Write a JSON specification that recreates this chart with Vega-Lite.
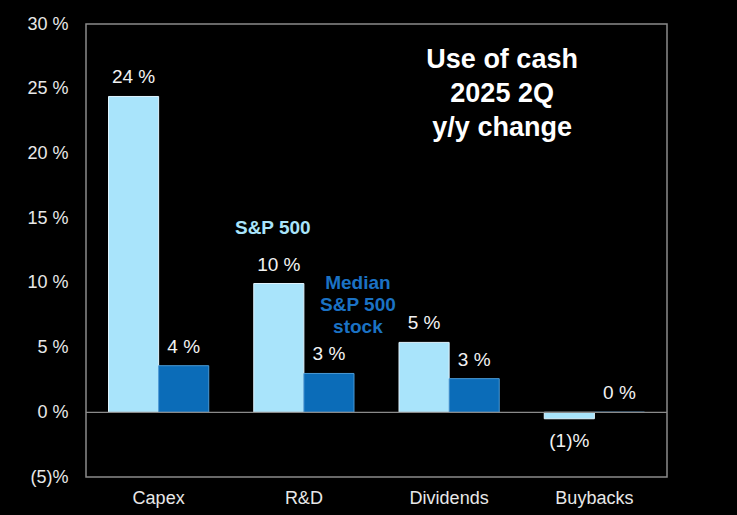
{
  "$schema": "https://vega.github.io/schema/vega-lite/v6.json",
  "width": 581,
  "height": 453,
  "autosize": {"type": "none"},
  "padding": {"left": 86, "top": 24, "right": 70, "bottom": 38},
  "background": "#000000",
  "config": {
    "view": {"stroke": "#8a8a8a", "strokeWidth": 1.5},
    "font": "Liberation Sans"
  },
  "datasets": {
    "bars": [
      {"category": "Capex", "series": "S&P 500", "value": 24.4, "label": "24 %"},
      {"category": "Capex", "series": "Median S&P 500 stock", "value": 3.6, "label": "4 %"},
      {"category": "R&D", "series": "S&P 500", "value": 9.95, "label": "10 %"},
      {"category": "R&D", "series": "Median S&P 500 stock", "value": 3.0, "label": "3 %"},
      {"category": "Dividends", "series": "S&P 500", "value": 5.4, "label": "5 %"},
      {"category": "Dividends", "series": "Median S&P 500 stock", "value": 2.6, "label": "3 %"},
      {"category": "Buybacks", "series": "S&P 500", "value": -0.5, "label": "(1)%"},
      {"category": "Buybacks", "series": "Median S&P 500 stock", "value": 0, "label": "0 %"}
    ],
    "title": [
      {"category": "Dividends", "y": 27.2, "text": "Use of cash"},
      {"category": "Dividends", "y": 24.6, "text": "2025 2Q"},
      {"category": "Dividends", "y": 22.0, "text": "y/y change"}
    ],
    "legendA": [
      {"category": "R&D", "series": "S&P 500", "y": 14.2, "text": "S&P 500"}
    ],
    "legendB": [
      {"category": "R&D", "series": "Median S&P 500 stock", "y": 10.0, "text": "Median"},
      {"category": "R&D", "series": "Median S&P 500 stock", "y": 8.3, "text": "S&P 500"},
      {"category": "R&D", "series": "Median S&P 500 stock", "y": 6.6, "text": "stock"}
    ]
  },
  "layer": [
    {
      "data": {"name": "bars"},
      "mark": {"type": "bar", "strokeWidth": 1},
      "encoding": {
        "x": {
          "field": "category", "type": "nominal",
          "sort": ["Capex", "R&D", "Dividends", "Buybacks"],
          "scale": {"paddingInner": 0.31, "paddingOuter": 0.155},
          "axis": {
            "title": null, "labelAngle": 0, "domain": false, "ticks": false,
            "labelColor": "#e8e8e8", "labelFontSize": 18, "labelPadding": 12,
            "labelFont": "Liberation Sans"
          }
        },
        "xOffset": {"field": "series", "type": "nominal", "sort": ["S&P 500", "Median S&P 500 stock"]},
        "y": {
          "field": "value", "type": "quantitative",
          "scale": {"domain": [-5, 30], "nice": false, "zero": false},
          "axis": {
            "title": null, "values": [-5, 0, 5, 10, 15, 20, 25, 30],
            "grid": false, "domain": false, "ticks": false,
            "labelColor": "#e8e8e8", "labelFontSize": 18, "labelPadding": 18,
            "labelFont": "Liberation Sans",
            "labelExpr": "datum.value < 0 ? '(' + (-datum.value) + ')%' : datum.value + ' %'"
          }
        },
        "color": {
          "field": "series", "type": "nominal",
          "scale": {"domain": ["S&P 500", "Median S&P 500 stock"], "range": ["#a9e4fb", "#0b6cb8"]},
          "legend": null
        },
        "stroke": {
          "field": "series", "type": "nominal",
          "scale": {"domain": ["S&P 500", "Median S&P 500 stock"], "range": ["#dff4ff", "#4a9ad6"]},
          "legend": null
        }
      }
    },
    {
      "data": {"values": [{"v": 0}]},
      "mark": {"type": "rule", "color": "#8a8a8a", "strokeWidth": 1.2},
      "encoding": {"y": {"field": "v", "type": "quantitative"}}
    },
    {
      "data": {"name": "bars"},
      "transform": [{"filter": "datum.value >= 0"}],
      "mark": {"type": "text", "color": "#f2f2f2", "fontSize": 19, "dy": -19, "baseline": "middle"},
      "encoding": {
        "x": {"field": "category", "type": "nominal", "sort": ["Capex", "R&D", "Dividends", "Buybacks"]},
        "xOffset": {"field": "series", "type": "nominal", "sort": ["S&P 500", "Median S&P 500 stock"]},
        "y": {"field": "value", "type": "quantitative"},
        "text": {"field": "label"}
      }
    },
    {
      "data": {"name": "bars"},
      "transform": [{"filter": "datum.value < 0"}],
      "mark": {"type": "text", "color": "#f2f2f2", "fontSize": 19, "dy": 22, "baseline": "middle"},
      "encoding": {
        "x": {"field": "category", "type": "nominal", "sort": ["Capex", "R&D", "Dividends", "Buybacks"]},
        "xOffset": {"field": "series", "type": "nominal", "sort": ["S&P 500", "Median S&P 500 stock"]},
        "y": {"field": "value", "type": "quantitative"},
        "text": {"field": "label"}
      }
    },
    {
      "data": {"name": "title"},
      "mark": {"type": "text", "color": "#ffffff", "fontSize": 27, "fontWeight": "bold", "dx": 53, "baseline": "middle"},
      "encoding": {
        "x": {"field": "category", "type": "nominal", "sort": ["Capex", "R&D", "Dividends", "Buybacks"]},
        "y": {"field": "y", "type": "quantitative"},
        "text": {"field": "text"}
      }
    },
    {
      "data": {"name": "legendA"},
      "mark": {"type": "text", "color": "#a9e4fb", "fontSize": 19, "fontWeight": "bold", "dx": -6, "baseline": "middle"},
      "encoding": {
        "x": {"field": "category", "type": "nominal", "sort": ["Capex", "R&D", "Dividends", "Buybacks"]},
        "xOffset": {"field": "series", "type": "nominal", "sort": ["S&P 500", "Median S&P 500 stock"]},
        "y": {"field": "y", "type": "quantitative"},
        "text": {"field": "text"}
      }
    },
    {
      "data": {"name": "legendB"},
      "mark": {"type": "text", "color": "#1b72c4", "fontSize": 19, "fontWeight": "bold", "dx": 29, "baseline": "middle"},
      "encoding": {
        "x": {"field": "category", "type": "nominal", "sort": ["Capex", "R&D", "Dividends", "Buybacks"]},
        "xOffset": {"field": "series", "type": "nominal", "sort": ["S&P 500", "Median S&P 500 stock"]},
        "y": {"field": "y", "type": "quantitative"},
        "text": {"field": "text"}
      }
    }
  ]
}
